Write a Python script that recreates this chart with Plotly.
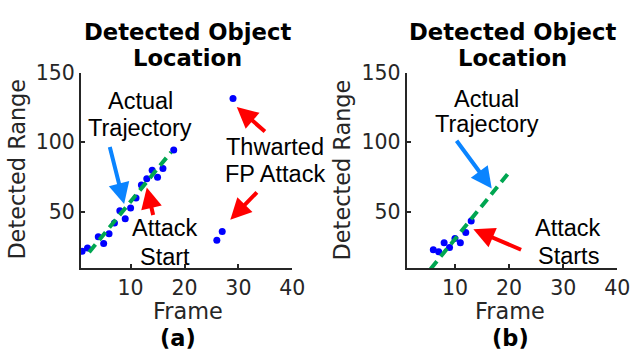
import plotly.graph_objects as go

W, H = 644, 354

# ---- data -------------------------------------------------------------
# (a) detections while the false-positive attack is thwarted
frames_a = [1, 2, 4, 5, 6, 7, 8, 9, 10, 11, 12, 13, 14, 15, 16, 18, 26, 27, 29]
range_a = [21.5, 23.8, 31.9, 27.2, 34.1, 41.9, 50.7, 45.0, 52.6, 59.9,
           69.1, 73.7, 79.7, 74.8, 81.0, 94.3, 29.5, 35.7, 131.4]
traj_frames_a = [2.3, 17.5]
traj_range_a = [20.8, 92.8]

# (b) detections when the attack starts
frames_b = [6, 7, 8, 9, 10, 11, 12, 13]
range_b = [22.6, 21.2, 27.7, 24.3, 30.7, 27.7, 35.0, 43.3]
traj_frames_b = [5.5, 20.4]
traj_range_b = [8.8, 80.1]

x_ticks = [10, 20, 30, 40]
y_ticks = [50, 100, 150]

# ---- styling ----------------------------------------------------------
AX = "#262626"
BLUE_PT = "#0000ff"
GREEN = "#00a651"
ARROW_BLUE = "#0a84ff"
RED = "#ff0000"
TXT_FONT = dict(family="Liberation Sans, Arial, sans-serif", size=23.5, color="black")
AX_FONT = "DejaVu Sans"


def px_x(p):
    return p / W


def px_y(p):
    return 1 - p / H


fig = go.Figure()

fig.add_trace(go.Scatter(x=frames_a, y=range_a, mode="markers",
                         marker=dict(color=BLUE_PT, size=7),
                         xaxis="x", yaxis="y", showlegend=False))
fig.add_trace(go.Scatter(x=traj_frames_a, y=traj_range_a, mode="lines",
                         line=dict(color=GREEN, width=4, dash="10px,6px"),
                         xaxis="x", yaxis="y", showlegend=False))
fig.add_trace(go.Scatter(x=frames_b, y=range_b, mode="markers",
                         marker=dict(color=BLUE_PT, size=7),
                         xaxis="x2", yaxis="y2", showlegend=False))
fig.add_trace(go.Scatter(x=traj_frames_b, y=traj_range_b, mode="lines",
                         line=dict(color=GREEN, width=4, dash="10px,6px"),
                         xaxis="x2", yaxis="y2", showlegend=False))

axis_common = dict(showline=True, linecolor=AX, linewidth=2, mirror=False,
                   ticks="inside", ticklen=4, tickwidth=1.5, tickcolor=AX,
                   showgrid=False, zeroline=False,
                   tickfont=dict(family=AX_FONT, size=20.5, color=AX))

ydom = [px_y(265), px_y(62.7)]
fig.update_layout(
    width=W, height=H,
    margin=dict(l=0, r=0, t=0, b=0),
    plot_bgcolor="white", paper_bgcolor="white",
    xaxis=dict(domain=[px_x(82.7), px_x(298.3)], range=[0.8, 40],
               tickvals=x_ticks, anchor="y", **axis_common),
    yaxis=dict(domain=ydom, range=[9.5, 150], tickvals=y_ticks,
               anchor="x", **axis_common),
    xaxis2=dict(domain=[px_x(415), px_x(630)], range=[1.07, 40],
                tickvals=x_ticks, anchor="y2", **axis_common),
    yaxis2=dict(domain=ydom, range=[9.5, 150], tickvals=y_ticks,
                anchor="x2", **axis_common),
)

ann = []


def label(text, cx, cy, font, angle=0):
    ann.append(dict(text=text, xref="paper", yref="paper", x=px_x(cx), y=px_y(cy),
                    xanchor="center", yanchor="middle", showarrow=False,
                    textangle=angle, font=font))


TITLE_FONT = dict(family="DejaVu Sans", size=22.7, color="black", weight="bold")
AXT_FONT = dict(family=AX_FONT, size=22.4, color=AX)
TAG_FONT = dict(family="DejaVu Sans", size=22.5, color="black", weight="bold")

# panel titles (two lines each)
for cx in [191, 523.3]:
    label("Detected Object", cx, 21, TITLE_FONT)
    label("Location", cx, 47.7, TITLE_FONT)

# axis titles
label("Frame", 191.7, 310, AXT_FONT)
label("Frame", 520, 310, AXT_FONT)
label("Detected Range", 17.5, 163, AXT_FONT, -90)
label("Detected Range", 350, 163, AXT_FONT, -90)

# sub-figure tags
label("(a)", 181.7, 337, TAG_FONT)
label("(b)", 520.8, 337, TAG_FONT)

# callout texts
label("Actual", 143.3, 92, TXT_FONT)
label("Trajectory", 143.3, 120, TXT_FONT)
label("Attack", 168.3, 223.3, TXT_FONT)
label("Start", 168.3, 253.3, TXT_FONT)
label("Thwarted", 280.8, 140, TXT_FONT)
label("FP Attack", 280.8, 167.5, TXT_FONT)
label("Actual", 496.7, 90, TXT_FONT)
label("Trajectory", 496.7, 116.3, TXT_FONT)
label("Attack", 580, 223.3, TXT_FONT)
label("Starts", 580, 252.7, TXT_FONT)

# arrows: (axis pair, tip x, tip y, tail x, tail y, colour)
arrows = [
    ("x", "y", 8.8, 55.5, 6.07, 97.5, ARROW_BLUE),
    ("x", "y", 13.0, 67.4, 14.25, 46.5, RED),
    ("x", "y", 29.7, 125.3, 35.2, 106.7, RED),
    ("x", "y", 28.5, 44.2, 33.7, 65.0, RED),
    ("x2", "y2", 16.8, 66.7, 10.1, 102.1, ARROW_BLUE),
    ("x2", "y2", 13.4, 37.3, 22.5, 22.2, RED),
]
for xr, yr, x, y, tx, ty, c in arrows:
    ann.append(dict(text="", xref=xr, yref=yr, x=x, y=y, axref=xr, ayref=yr,
                    ax=tx, ay=ty, showarrow=True, arrowhead=2, arrowsize=1.05,
                    arrowwidth=4, arrowcolor=c, standoff=0, startstandoff=0))

fig.update_layout(annotations=ann)
fig.write_html("out.html")
